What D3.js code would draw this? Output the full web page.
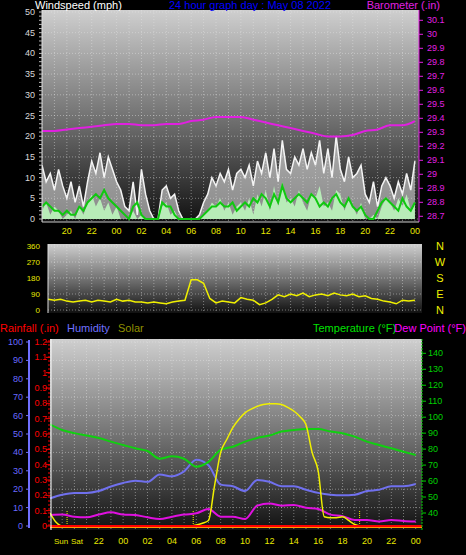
<!DOCTYPE html>
<html><head><meta charset="utf-8">
<script src="https://cdn.jsdelivr.net/npm/d3@7"></script>
<style>body{margin:0;background:#000}svg{display:block;font-family:"Liberation Sans",Arial,sans-serif}</style>
</head><body><svg id="c" width="466" height="555"></svg>
<script>
// hours since 18:00 of previous day
const hourLabels = ["20","22","00","02","04","06","08","10","12","14","16","18","20","22","00"];
const hourLabelT = [2,4,6,8,10,12,14,16,18,20,22,24,26,28,30];
// 20-minute wind samples
const windGust = [13,9,11,7,12,8, 5,9,4,8,3,9, 14,11,16,10,15,12, 9,7,3,2,9,1, 12,6,2,0,0,7, 8,5,6,2,0,0, 0,0,1,4,6,10, 8,11,9,12,7,11, 12,10,13,8,14,11, 16,10,17,9,19,12, 11,15,13,17,12,16, 13,19,11,17,10,20, 12,9,15,10,11,13, 6,4,9,3,8,10, 8,5,9,6,11,7, 14];
const windAvg = [3,4,3,2,2,1, 2,1,1,3,2,4, 5,6,5,7,5,4, 3,2,1,0,3,4, 1,0,0,0,0,4, 3,3,1,0,0,0, 0,0,0,1,2,3, 3,4,3,3,4,2, 3,4,3,5,4,6, 5,3,6,4,8,5, 4,5,6,5,4,6, 5,3,4,3,5,6, 4,3,5,3,2,3, 1,0,0,2,4,5, 4,3,2,5,3,2, 4];
const windSpeed = [2,4,1,3,2,0, 1,2,0,3,1,4, 6,3,5,2,4,1, 3,0,0,0,2,0, 1,0,0,0,0,3, 4,1,2,0,0,0, 0,0,0,1,2,4, 3,5,2,4,1,3, 4,2,5,1,6,3, 7,2,8,3,9,4, 5,3,7,4,2,6, 5,8,3,4,2,7, 6,2,5,3,1,4, 0,0,1,0,3,5, 4,2,5,3,6,2, 4];
// hourly barometer
const baro = [29.31,29.31,29.32,29.33,29.34,29.35,29.36,29.36,29.35,29.35,29.36,29.36,29.38,29.39,29.41,29.41,29.41,29.39,29.37,29.35,29.33,29.31,29.29,29.27,29.27,29.28,29.31,29.32,29.35,29.35,29.38];
// 30-minute wind direction
const windDir = [75,60,55,60, 50,45,50,55, 45,55,50,45, 60,50,55,45, 45,40,45,40, 35,45,50,55, 170,170,150,65, 40,50,45,40, 70,60,55,30, 40,60,85,75, 90,80,95,75, 85,90,80,95, 85,80,90,75, 80,65,60,50, 45,35,55,50, 55];
// hourly temperature, dew point, humidity
const temperature = [95.5,92,90,88.5,87,84.7,82.6,80.5,78.8,74,75.5,74,69,72,79.5,81.5,84.7,87,88.5,91,92,92.6,92.6,91,90,87.8,84.7,82.6,80.5,78.4,76.3];
const dewPoint = [38.7,39,37.7,37.3,39,40.4,39,38.7,37.3,36.2,37.7,39,39.8,42.5,37.7,37.7,36.2,44.6,46,44.6,45,43.3,42.5,39,38,35.6,35.6,34.6,35.6,35,34.6];
const humidity = [15,17,18,18,19,21.5,23.4,24.6,24,28,27,29.7,36,33,22.5,21.6,19,25,24,21.6,21.6,19.7,18,17,16.7,17,19,19.7,21.6,21.6,22.8];
// 30-minute solar
const solar = [70,20,0,0,0,0,0,0,0,0,0,0,0,0,0,0,0,0,0,0,0,0,0,0,5,15,30,220,400,470,535,580,615,635,650,660,665,665,660,645,625,595,550,400,300,50,45,45,50,30,8,0,0,0,0,0,0,0,0,0,0];
const rainfall = [0,0];
const sunMarks = [1.4,11.75,25.4];
const dirLetters = ["N","W","S","E","N"];

const svg = d3.select("#c");
const defs = svg.append("defs");
const g = defs.append("linearGradient").attr("id","bg").attr("x1",0).attr("y1",0).attr("x2",0).attr("y2",1);
g.append("stop").attr("offset","0%").attr("stop-color","#cfcfcf");
g.append("stop").attr("offset","55%").attr("stop-color","#6a6a6a");
g.append("stop").attr("offset","100%").attr("stop-color","#111");

function panel(id,x0,x1,y0,y1){
  defs.append("clipPath").attr("id",id).append("rect").attr("x",x0).attr("y",y0).attr("width",x1-x0).attr("height",y1-y0);
  svg.append("rect").attr("x",x0).attr("y",y0).attr("width",x1-x0).attr("height",y1-y0).attr("fill","url(#bg)");
  return svg.append("g").attr("clip-path",`url(#${id})`);
}
function txt(x,y,s,fill,size,anchor){
  return svg.append("text").attr("x",x).attr("y",y).text(s).attr("fill",fill).attr("font-size",size).attr("text-anchor",anchor||"start");
}
const grid = "rgba(230,230,230,0.45)";

// ---- top panel
const xT = d3.scaleLinear().domain([0,30]).range([42,414.9]);
const yW = d3.scaleLinear().domain([0,50]).range([219,12]);
const yB = d3.scaleLinear().domain([28.7,30.1]).range([216.3,20.3]);
const p1 = panel("p1",42,419,10,222);
for(let h=0;h<=31;h++) p1.append("line").attr("x1",xT(h)).attr("x2",xT(h)).attr("y1",10).attr("y2",222).attr("stroke",grid).attr("stroke-dasharray","1,2");
d3.range(0,51,5).forEach(v=>p1.append("line").attr("x1",42).attr("x2",419).attr("y1",yW(v)).attr("y2",yW(v)).attr("stroke",grid).attr("stroke-dasharray","1,2"));
const t20 = (d,i)=>i/3;
p1.append("path").datum(windGust).attr("fill","rgba(235,235,235,0.55)")
  .attr("d",d3.area().x((d,i)=>xT(t20(d,i))).y0(yW(0)).y1(d=>yW(d)));
p1.append("path").datum(windGust).attr("fill","none").attr("stroke","#f4f4f4").attr("stroke-width",1.5)
  .attr("d",d3.line().x((d,i)=>xT(t20(d,i))).y(d=>yW(d)));
p1.append("path").datum(windSpeed).attr("fill","#b8ecb8")
  .attr("d",d3.area().x((d,i)=>xT(t20(d,i))).y0(yW(0)).y1(d=>yW(d)));
p1.append("path").datum(windAvg).attr("fill","none").attr("stroke","#10c810").attr("stroke-width",2)
  .attr("d",d3.line().x((d,i)=>xT(t20(d,i))).y(d=>yW(d)));
p1.append("path").datum(baro).attr("fill","none").attr("stroke","#e020e0").attr("stroke-width",2)
  .attr("d",d3.line().x((d,i)=>xT(i)).y(d=>yB(d)).curve(d3.curveMonotoneX));
svg.append("line").attr("x1",42).attr("x2",42).attr("y1",10).attr("y2",222).attr("stroke","#ddd");
svg.append("line").attr("x1",419).attr("x2",419).attr("y1",10).attr("y2",222).attr("stroke","#e020e0");
svg.append("line").attr("x1",42).attr("x2",419).attr("y1",222).attr("y2",222).attr("stroke","#ccc");
d3.range(0,51,5).forEach(v=>txt(35,yW(v)+3,v,"#d8d8d8",9,"end"));
d3.range(0,51,1).forEach(v=>svg.append("line").attr("x1",39).attr("x2",42).attr("y1",yW(v)).attr("y2",yW(v)).attr("stroke","#bbb"));
d3.range(28.7,30.15,0.1).forEach(v=>{txt(427,yB(v)+3,(+v.toFixed(1)).toString(),"#e020e0",9);
  svg.append("line").attr("x1",419).attr("x2",423).attr("y1",yB(v)).attr("y2",yB(v)).attr("stroke","#e020e0");});
hourLabels.forEach((s,i)=>txt(xT(hourLabelT[i]),234,s,"#e8e800",9,"middle"));
txt(35,9,"Windspeed (mph)","#fff",11);
txt(250,9,"24 hour graph day : May 08 2022","#0000ff",11,"middle");
txt(440,9,"Barometer (.in)","#e020e0",11,"end");

// ---- direction panel
const yD = d3.scaleLinear().domain([0,360]).range([310,246]);
const p2 = panel("p2",48,422,244,313);
for(let h=0;h<=31;h++) p2.append("line").attr("x1",xT(h)).attr("x2",xT(h)).attr("y1",244).attr("y2",313).attr("stroke",grid).attr("stroke-dasharray","1,2");
[0,90,180,270,360].forEach(v=>p2.append("line").attr("x1",48).attr("x2",422).attr("y1",yD(v)).attr("y2",yD(v)).attr("stroke",grid).attr("stroke-dasharray","1,2"));
p2.append("path").datum(windDir).attr("fill","none").attr("stroke","#f0f000").attr("stroke-width",1.5)
  .attr("d",d3.line().x((d,i)=>xT(i/2)).y(d=>yD(d)));
svg.append("line").attr("x1",48).attr("x2",48).attr("y1",244).attr("y2",313).attr("stroke","#ddd");
[0,90,180,270,360].forEach(v=>txt(40,yD(v)+3,v,"#e8e800",8,"end"));
dirLetters.forEach((s,i)=>txt(440,246+i*16+4,s,"#f0f000",11,"middle"));
txt(0,332,"Rainfall (.in)","#ff0000",11);
txt(67,332,"Humidity","#7070ff",11);
txt(118,332,"Solar","#909000",11);
txt(313,332,"Temperature (°F)","#00e000",11);
txt(466,332,"Dew Point (°F)","#ff00ff",11,"end");

// ---- bottom panel
const xB = d3.scaleLinear().domain([0,30]).range([50,415.7]);
const yH = d3.scaleLinear().domain([0,100]).range([526,342]);
const yR = d3.scaleLinear().domain([0,1.2]).range([526,342]);
const yTmp = d3.scaleLinear().domain([40,140]).range([513,353.3]);
const yS = d3.scaleLinear().domain([0,1000]).range([526,342]);
const p3 = panel("p3",50,422,339,530);
for(let h=0;h<=31;h++) p3.append("line").attr("x1",xB(h)).attr("x2",xB(h)).attr("y1",339).attr("y2",530).attr("stroke",grid).attr("stroke-dasharray","1,2");
d3.range(0,101,10).forEach(v=>p3.append("line").attr("x1",50).attr("x2",422).attr("y1",yH(v)).attr("y2",yH(v)).attr("stroke",grid).attr("stroke-dasharray","1,2"));
sunMarks.forEach(t=>p3.append("line").attr("x1",xB(t)).attr("x2",xB(t)).attr("y1",511).attr("y2",527).attr("stroke","#f0f000").attr("stroke-dasharray","1,1"));
p3.append("path").datum(humidity).attr("fill","none").attr("stroke","#7070ee").attr("stroke-width",2)
  .attr("d",d3.line().x((d,i)=>xB(i)).y(d=>yH(d)).curve(d3.curveMonotoneX));
p3.append("path").datum(temperature).attr("fill","none").attr("stroke","#10d010").attr("stroke-width",2)
  .attr("d",d3.line().x((d,i)=>xB(i)).y(d=>yTmp(d)).curve(d3.curveMonotoneX));
p3.append("path").datum(dewPoint).attr("fill","none").attr("stroke","#e010e0").attr("stroke-width",2)
  .attr("d",d3.line().x((d,i)=>xB(i)).y(d=>yTmp(d)).curve(d3.curveMonotoneX));
p3.append("path").datum(solar).attr("fill","none").attr("stroke","#f0f000").attr("stroke-width",1.5)
  .attr("d",d3.line().x((d,i)=>xB(i/2)).y(d=>yS(d)).curve(d3.curveMonotoneX));
p3.append("line").attr("x1",50).attr("x2",422).attr("y1",yR(rainfall[0])+1).attr("y2",yR(rainfall[1])+1).attr("stroke","#ff9900").attr("stroke-width",2);
p3.append("line").attr("x1",50).attr("x2",422).attr("y1",yR(rainfall[0])).attr("y2",yR(rainfall[1])).attr("stroke","#ff0000").attr("stroke-width",2);
svg.append("line").attr("x1",51).attr("x2",51).attr("y1",339).attr("y2",530).attr("stroke","#fff");
svg.append("line").attr("x1",29).attr("x2",29).attr("y1",340).attr("y2",528).attr("stroke","#7070ff").attr("stroke-width",2);
svg.append("line").attr("x1",49).attr("x2",49).attr("y1",340).attr("y2",528).attr("stroke","#ff0000").attr("stroke-dasharray","2,2");
svg.append("line").attr("x1",422).attr("x2",422).attr("y1",339).attr("y2",530).attr("stroke","#00d000").attr("stroke-dasharray","2,1");
d3.range(0,101,10).forEach(v=>{txt(23,yH(v)+3,v,"#6a6aff",9,"end");
  svg.append("line").attr("x1",26).attr("x2",30).attr("y1",yH(v)).attr("y2",yH(v)).attr("stroke","#7070ff");});
d3.range(0,1.21,0.1).forEach(v=>{txt(47,yR(v)+3,(+v.toFixed(1)).toString(),"#ff0000",9,"end");
  svg.append("line").attr("x1",46).attr("x2",50).attr("y1",yR(v)).attr("y2",yR(v)).attr("stroke","#ff0000");});
d3.range(40,141,10).forEach(v=>{txt(428,yTmp(v)+3,v,"#00d000",9);
  svg.append("line").attr("x1",422).attr("x2",426).attr("y1",yTmp(v)).attr("y2",yTmp(v)).attr("stroke","#00d000");});
txt(54,544,"Sun","#e8e800",8);
txt(71,544,"Sat","#e8e800",8);
hourLabels.slice(1).forEach((s,i)=>txt(xB(hourLabelT[i+1]),544,s,"#e8e800",9,"middle"));
</script></body></html>
